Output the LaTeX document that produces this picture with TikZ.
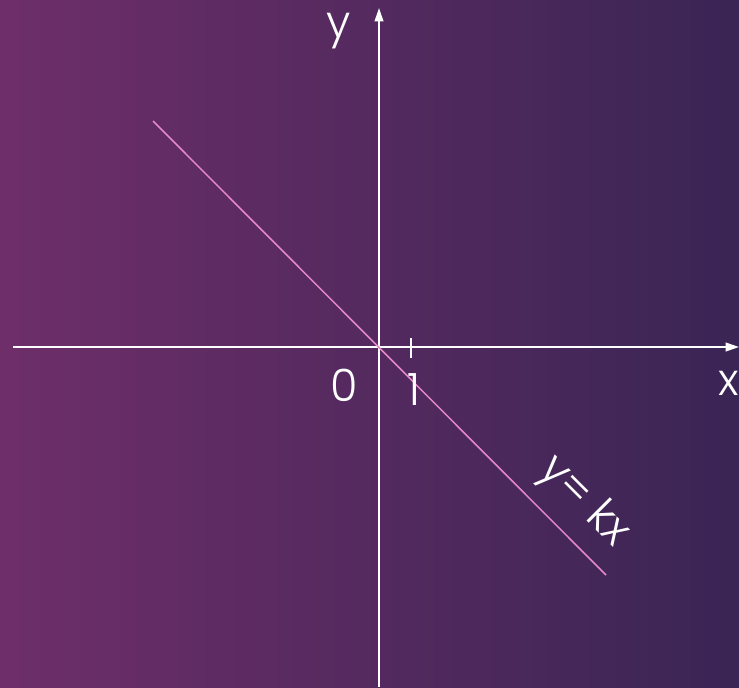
\documentclass[tikz,border=0pt]{standalone}
\usepackage{fontspec}
\setmainfont{Poppins Light}
\usepackage{tikz}
\usetikzlibrary{arrows.meta,positioning}
\definecolor{BgLeft}{HTML}{6E2E69}
\definecolor{BgRight}{HTML}{3A2555}
\definecolor{LinePink}{HTML}{E588CB}

\begin{document}
\begin{tikzpicture}[
  x=0.03cm,y=-0.03cm,
  axis/.style={draw=white,line width=1.6pt,-{Triangle[length=4mm,width=2.6mm]}},
  label/.style={text=white,font=\fontsize{38}{40}\selectfont,inner sep=0pt}
]
% background
\shade[left color=BgLeft,right color=BgRight] (0,0) rectangle (739,687);
\useasboundingbox (0,0) rectangle (739,687);
% axes
\coordinate (origin) at (379,347);
\coordinate (xstart) at (13,347);
\coordinate (xend) at (739,347);
\coordinate (ystart) at (379,687);
\coordinate (yend) at (379,8);
\draw[axis] (xstart) -- (xend);
\draw[axis] (ystart) -- (yend);
% tick
\coordinate (ticktop) at (411,338);
\coordinate (tickbot) at (411,358);
\draw[white,line width=1.6pt] (ticktop) -- (tickbot);
% line y=kx
\coordinate (lineA) at (153,121);
\coordinate (lineB) at (606,575);
\draw[LinePink,line width=1.3pt] (lineA) -- (lineB);
% labels
\node[label] (ylab) at (339,31) {y};
\node[label] (xlab) at (729,383) {x};
\node[label] (zero) at (344,385) {0};
\node[label] (one) at (414,390) {1};
\node[label,rotate=-45] (eq) at (583,502) {y= kx};
\end{tikzpicture}
\end{document}
